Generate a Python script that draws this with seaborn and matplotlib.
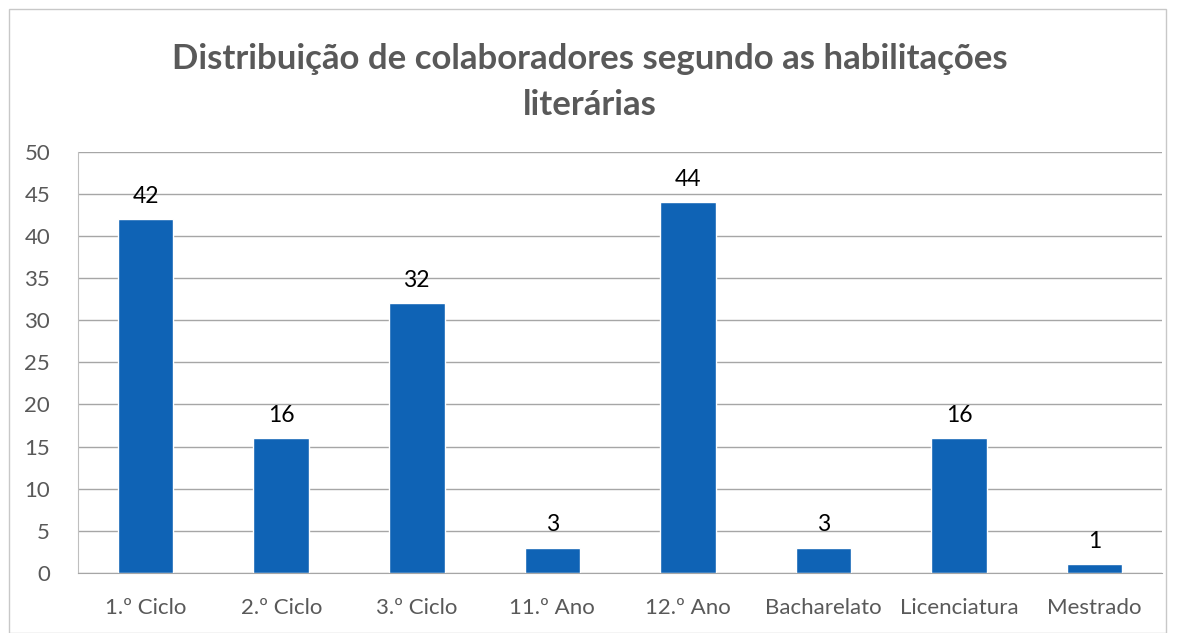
import pandas as pd
import matplotlib.pyplot as plt
import seaborn as sns
from matplotlib.patches import Rectangle

# data
categorias = ['1.º Ciclo', '2.º Ciclo', '3.º Ciclo', '11.º Ano', '12.º Ano',
              'Bacharelato', 'Licenciatura', 'Mestrado']
colaboradores = [42, 16, 32, 3, 44, 3, 16, 1]

df = pd.DataFrame({'Habilitacao': categorias, 'Colaboradores': colaboradores})

sns.set_style('white')
plt.rcParams['font.family'] = ['Lato', 'DejaVu Sans']

fig = plt.figure(figsize=(11.8, 6.33), dpi=100)
ax = fig.add_axes([0.066, 0.095, 0.919, 0.665])

sns.barplot(data=df, x='Habilitacao', y='Colaboradores', color='#0F63B5',
            width=0.41, saturation=1, ax=ax)

ax.set_ylim(0, 50)
ax.set_yticks(range(0, 51, 5))
ax.yaxis.grid(True, color='#a6a6a6', linewidth=1)
ax.set_axisbelow(True)
ax.set_xlabel('')
ax.set_ylabel('')
ax.tick_params(axis='both', labelsize=16, colors='#595959', length=0)
ax.tick_params(axis='y', pad=20)
ax.tick_params(axis='x', pad=18)

for s in ['top', 'right']:
    ax.spines[s].set_visible(False)
ax.spines['left'].set_color('#bfbfbf')
ax.spines['bottom'].set_color('#a6a6a6')

for c in ax.containers:
    ax.bar_label(c, fmt='%d', padding=9, fontsize=16.5, color='black')

fig.text(0.5, 0.907, 'Distribuição de colaboradores segundo as habilitações',
         ha='center', va='center', fontsize=25, fontweight='bold', color='#595959')
fig.text(0.5, 0.834, 'literárias', ha='center', va='center', fontsize=25,
         fontweight='bold', color='#595959')

# outer chart frame
fig.patches.append(Rectangle((0.008, 0.0), 0.98, 0.985, transform=fig.transFigure,
                             fill=False, edgecolor='#c8c8c8', linewidth=1))

plt.savefig('out.png', dpi=100)
